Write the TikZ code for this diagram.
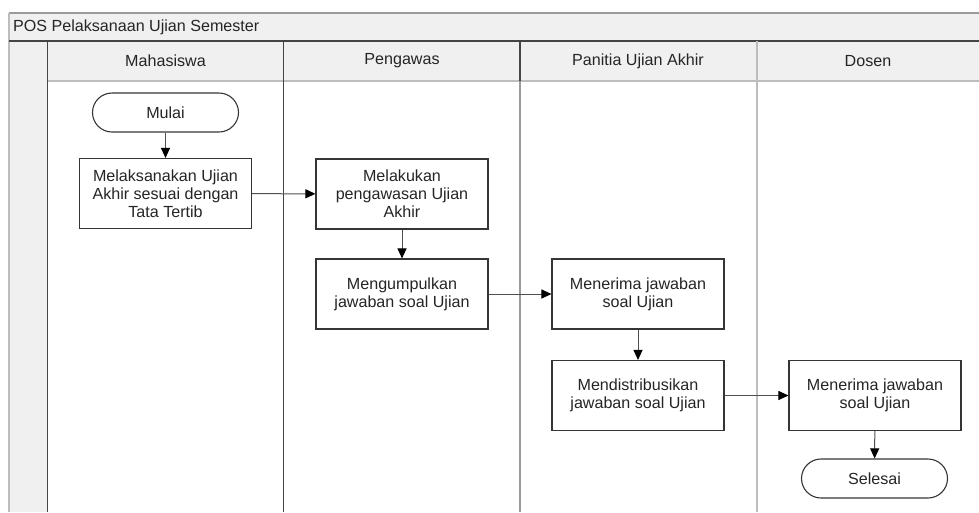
\documentclass[tikz,border=0pt]{standalone}
\usepackage{fontspec}
\setmainfont{Liberation Sans}
\usetikzlibrary{arrows.meta}
\definecolor{panel}{HTML}{F0F0F0}
\definecolor{boxline}{HTML}{353535}
\definecolor{txt}{HTML}{252525}
\definecolor{darkrule}{HTML}{454545}
\definecolor{midrule}{HTML}{9A9A9A}
\definecolor{lightrule}{HTML}{BDBDBD}
\definecolor{flowline}{HTML}{505050}
\begin{document}
\begin{tikzpicture}[x=1pt,y=-1pt,
  font=\fontsize{16.1}{18}\selectfont,
  every node/.style={text=txt},
  stepbox/.style={draw=boxline, line width=1.1pt, fill=white,
    minimum width=172pt, minimum height=70pt, align=center, inner sep=0pt},
  term/.style={draw=boxline, line width=1.1pt, fill=white, rounded corners=19.5pt,
    minimum width=146pt, minimum height=39pt, inner sep=0pt},
  lanehead/.style={anchor=center, inner sep=0pt},
  flow/.style={draw=flowline, line width=1pt,
    -{Triangle[length=10pt,width=9pt,color=black]}},
  rule/.style={line width=1.8pt}
]
\useasboundingbox (0,0) rectangle (979,512);

% panel backgrounds
\fill[white] (0,0) rectangle (979,512);
\fill[panel] (9,13) rectangle (979,41);
\fill[panel] (9,41) rectangle (47.5,512);
\fill[panel] (47.5,41) rectangle (979,81);

% frame and lane rules
\draw[rule, draw=midrule] (9,13) -- (979,13);
\draw[rule, draw=lightrule] (9,13) -- (9,512);
\draw[rule, draw=darkrule] (9,41) -- (979,41);
\draw[rule, draw=darkrule] (47.5,41) -- (47.5,512);
\draw[rule, draw=lightrule] (47.5,81) -- (979,81);
\draw[rule, draw=darkrule] (283.5,41) -- (283.5,512);
\draw[rule, draw=darkrule] (520,41) -- (520,81);
\draw[rule, draw=midrule] (520,81) -- (520,512);
\draw[rule, draw=lightrule] (757,41) -- (757,512);

% title and lane headings
\node[anchor=west, inner sep=0pt] (title) at (13,27) {POS Pelaksanaan Ujian Semester};
\node[lanehead] (mhs) at (165.5,61) {Mahasiswa};
\node[lanehead] (pgw) at (402,61) {Pengawas};
\node[lanehead] (pan) at (638,61) {Panitia Ujian Akhir};
\node[lanehead] (dsn) at (868,61) {Dosen};

% process steps
\node[term] (mulai) at (165.5,112.5) {Mulai};
\node[stepbox] (laksana) at (165.5,193.5) {Melaksanakan Ujian\\Akhir sesuai dengan\\Tata Tertib};
\node[stepbox] (awasi) at (402,194) {Melakukan\\pengawasan Ujian\\Akhir};
\node[stepbox] (kumpul) at (402,294) {Mengumpulkan\\jawaban soal Ujian};
\node[stepbox] (terimaP) at (638,294) {Menerima jawaban\\soal Ujian};
\node[stepbox] (distribusi) at (638,395.5) {Mendistribusikan\\jawaban soal Ujian};
\node[stepbox] (terimaD) at (875,395.5) {Menerima jawaban\\soal Ujian};
\node[term] (selesai) at (874.5,478.5) {Selesai};

% connectors
\draw[flow] (mulai) -- (laksana);
\draw[flow] (laksana) -- (awasi);
\draw[flow] (awasi) -- (kumpul);
\draw[flow] (kumpul) -- (terimaP);
\draw[flow] (terimaP) -- (distribusi);
\draw[flow] (distribusi) -- (terimaD);
\draw[flow] (terimaD) -- (selesai);
\end{tikzpicture}
\end{document}
